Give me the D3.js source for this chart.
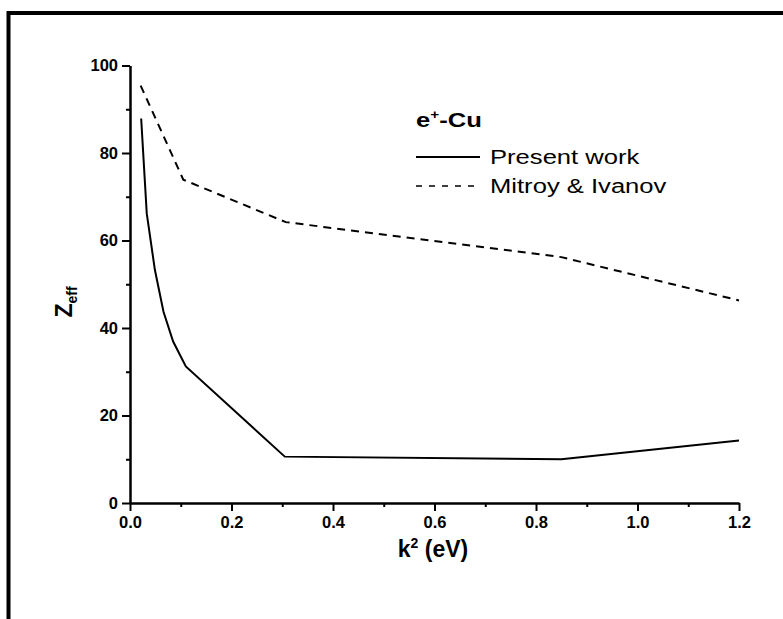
<!DOCTYPE html>
<html lang="en">
	<head>
		<meta charset="utf-8">
		<title>Zeff e+-Cu</title>
		<script type="text/javascript" src="https://cdn.jsdelivr.net/npm/d3@7"></script>
		<style type="text/css">
			body { margin: 0; background: #fff; }
			text { font-family: Arial, "Liberation Sans", sans-serif; }
		</style>
	</head>
	<body>
		<script type="text/javascript">

			var w = 783;
			var h = 619;

			// data
			var presentK = [0.022, 0.033, 0.049, 0.066, 0.085, 0.110, 0.305, 0.850, 1.200];
			var presentZ = [87.9, 66.2, 53.3, 43.7, 36.9, 31.2, 10.6, 10.0, 14.3];
			var mitroyK = [0.021, 0.105, 0.307, 0.850, 1.200];
			var mitroyZ = [95.4, 73.9, 64.2, 56.2, 46.3];
			var xTicks = [0.0, 0.2, 0.4, 0.6, 0.8, 1.0, 1.2];
			var yTicks = [0, 20, 40, 60, 80, 100];

			var xScale = d3.scaleLinear().domain([0, 1.2]).range([130, 739]);
			var yScale = d3.scaleLinear().domain([0, 100]).range([503, 65.5]);

			var svg = d3.select("body")
						.append("svg")
						.attr("width", w)
						.attr("height", h);

			// outer frame (runs off the right and bottom)
			svg.append("rect")
				.attr("x", 8.5)
				.attr("y", 13)
				.attr("width", 900)
				.attr("height", 800)
				.attr("fill", "none")
				.attr("stroke", "#000")
				.attr("stroke-width", 4);

			//minor ticks
			var xMinor = d3.range(0.1, 1.2, 0.2);
			var yMinor = d3.range(10, 100, 20);

			var xAxis = d3.axisBottom(xScale)
						  .tickValues(xTicks)
						  .tickFormat(d3.format(".1f"))
						  .tickSizeInner(8)
						  .tickSizeOuter(0)
						  .tickPadding(5);
			var yAxis = d3.axisLeft(yScale)
						  .tickValues(yTicks)
						  .tickFormat(d3.format("d"))
						  .tickSizeInner(8)
						  .tickSizeOuter(0)
						  .tickPadding(4);

			svg.append("g")
				.attr("transform", "translate(0," + yScale(0) + ")")
				.call(d3.axisBottom(xScale).tickValues(xMinor).tickFormat("").tickSizeInner(4).tickSizeOuter(0))
				.call(g => g.selectAll("line").attr("stroke-width", 2));

			svg.append("g")
				.attr("transform", "translate(" + xScale(0) + ",0)")
				.call(d3.axisLeft(yScale).tickValues(yMinor).tickFormat("").tickSizeInner(4).tickSizeOuter(0))
				.call(g => g.selectAll("line").attr("stroke-width", 2));

			var gx = svg.append("g")
				.attr("transform", "translate(0," + yScale(0) + ")")
				.call(xAxis);
			var gy = svg.append("g")
				.attr("transform", "translate(" + xScale(0) + ",0)")
				.call(yAxis);

			[gx, gy].forEach(function(g) {
				g.selectAll("path.domain").attr("stroke-width", 2.5);
				g.selectAll("line").attr("stroke-width", 2);
				g.selectAll("text")
					.attr("font-family", "Arial, 'Liberation Sans', sans-serif")
					.attr("font-size", 16.5)
					.attr("font-weight", "bold")
					.attr("fill", "#000");
			});

			// lines
			var line = d3.line()
						 .x(function(d) { return xScale(d[0]); })
						 .y(function(d) { return yScale(d[1]); });

			svg.append("path")
				.datum(d3.zip(presentK, presentZ))
				.attr("d", line)
				.attr("fill", "none")
				.attr("stroke", "#000")
				.attr("stroke-width", 2);

			svg.append("path")
				.datum(d3.zip(mitroyK, mitroyZ))
				.attr("d", line)
				.attr("fill", "none")
				.attr("stroke", "#000")
				.attr("stroke-width", 2)
				.attr("stroke-dasharray", "8,6");

			// axis titles
			var xt = svg.append("text")
				.attr("x", 433)
				.attr("y", 557)
				.attr("text-anchor", "middle")
				.attr("font-size", 23)
				.attr("font-weight", "bold");
			xt.append("tspan").text("k");
			xt.append("tspan").attr("dy", -9).attr("font-size", 14).text("2");
			xt.append("tspan").attr("dy", 9).text(" (eV)");

			var yt = svg.append("text")
				.attr("transform", "translate(72,302) rotate(-90)")
				.attr("text-anchor", "middle")
				.attr("font-size", 23)
				.attr("font-weight", "bold");
			yt.append("tspan").text("Z");
			yt.append("tspan").attr("dy", 5).attr("font-size", 14).text("eff");

			// legend (text is stretched sideways in the original)
			var lg = svg.append("g").attr("transform", "translate(416,0)");

			var title = lg.append("text")
				.attr("transform", "translate(0,127) scale(1.28,1)")
				.attr("font-size", 20)
				.attr("font-weight", "bold");
			title.append("tspan").text("e");
			title.append("tspan").attr("dy", -8).attr("font-size", 12).text("+");
			title.append("tspan").attr("dy", 8).text("-Cu");

			lg.append("line")
				.attr("x1", 0).attr("x2", 64)
				.attr("y1", 157).attr("y2", 157)
				.attr("stroke", "#000")
				.attr("stroke-width", 2);
			lg.append("line")
				.attr("x1", 0).attr("x2", 64)
				.attr("y1", 186).attr("y2", 186)
				.attr("stroke", "#000")
				.attr("stroke-width", 1.5)
				.attr("stroke-dasharray", "6,7");

			lg.append("text")
				.attr("transform", "translate(74,164) scale(1.28,1)")
				.attr("font-size", 20)
				.text("Present work");
			lg.append("text")
				.attr("transform", "translate(74,193) scale(1.28,1)")
				.attr("font-size", 20)
				.text("Mitroy & Ivanov");

		</script>
	</body>
</html>
